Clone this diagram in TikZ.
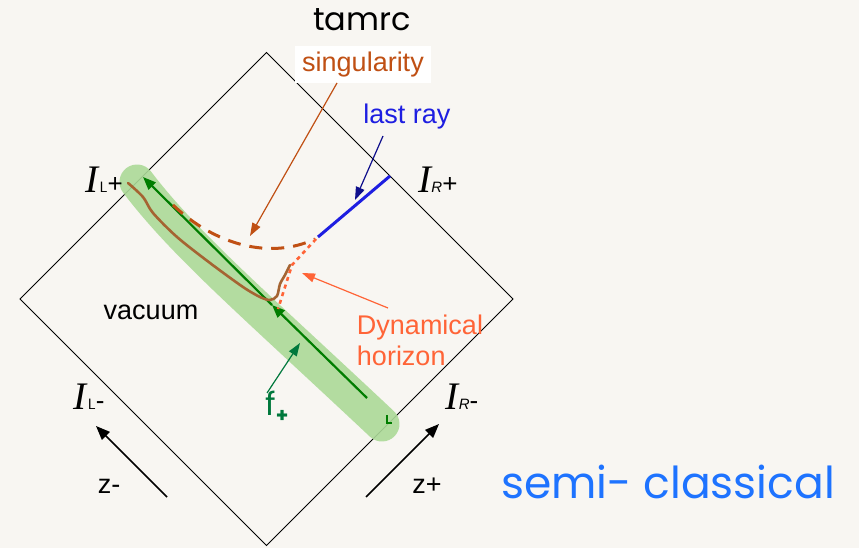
\documentclass[tikz,border=0pt]{standalone}
\usepackage{fontspec}
\setmainfont{Liberation Sans}
\newfontfamily\serifI{Liberation Serif}
\newfontfamily\handfont{Poppins}
\usetikzlibrary{arrows.meta}
\definecolor{paper}{RGB}{248,246,242}
\definecolor{singcol}{RGB}{192,80,20}
\definecolor{raycol}{RGB}{30,30,225}
\definecolor{navycol}{RGB}{15,15,140}
\definecolor{dyncol}{RGB}{255,100,55}
\definecolor{hlgreen}{RGB}{172,218,152}
\definecolor{dgreen}{RGB}{0,125,0}
\definecolor{fgreen}{RGB}{0,120,60}
\definecolor{browncol}{RGB}{165,100,50}
\definecolor{semiblue}{RGB}{30,115,255}
\newcommand{\scri}[2]{{\fontsize{39}{40}\selectfont\serifI\itshape I}{\fontsize{15}{15}\selectfont #1}{\fontsize{26}{26}\selectfont #2}}
\tikzset{
  lbl/.style={inner sep=0pt, font=\fontsize{27}{31}\selectfont},
  scrilbl/.style={inner sep=0pt},
  diag/.style={draw=black, line width=0.8pt},
  zarrow/.style={draw=black, line width=1.5pt, -{Triangle[length=14pt,width=11pt]}},
  thinarrow/.style={line width=1.2pt, -{Triangle[length=13pt,width=9pt]}},
}
\begin{document}
\begin{tikzpicture}[x=1pt,y=-1pt]
\path[use as bounding box, fill=paper] (0,0) rectangle (859,548);

% Penrose diagram
\coordinate (T) at (266.5,52.5);
\coordinate (R) at (513,299);
\coordinate (B) at (266.5,545.5);
\coordinate (L) at (20,299);
\draw[diag] (T) -- (R) -- (B) -- (L) -- cycle;

% highlighter stroke
\draw[hlgreen, opacity=0.9, line width=35pt, line cap=round]
  (137,182) .. controls (185,245) and (250,300) .. (382,424);

% green null ray
\coordinate (gtail) at (367,398);
\coordinate (gmid) at (272,305);
\coordinate (gtip) at (143,177);
\draw[dgreen, line width=2.2pt, -{Triangle[length=13pt,width=10pt]}] (gtail) -- (gmid);
\draw[dgreen, line width=2.2pt, -{Triangle[length=13pt,width=10pt]}] (gmid) -- (gtip);
\draw[dgreen, line width=1.5pt] (387,415) -- (387,423) -- (392,423);

% brown hand-drawn line
\draw[browncol, line width=2.6pt, line cap=round, line join=round]
  plot[smooth, tension=0.5] coordinates {(128,183) (143,197) (153,213) (177,237) (210,263) (243,287) (260,297) (270,300) (277,296) (280,284) (285,275) (290,265)};

% singularity curve
\coordinate (s1) at (173,205);
\coordinate (s2) at (315,239);
\draw[singcol, line width=3pt, dash pattern=on 13pt off 9pt]
  (s1) .. controls (215,245) and (270,260) .. (s2);

% dynamical horizon dotted
\coordinate (d1) at (316,239);
\coordinate (d2) at (278,309);
\draw[dyncol, line width=2.6pt, dash pattern=on 4pt off 4pt] (d1) -- (292,265) -- (d2);

% last ray
\coordinate (r1) at (318,237);
\coordinate (r2) at (390,176);
\draw[raycol, line width=3pt] (r1) -- (r2);

% labels
\node[scrilbl] (ILp) at (104,180) {\scri{\textsf{L}}{+}};
\node[scrilbl] (IRp) at (438,180) {\scri{\textit{R}}{+}};
\node[scrilbl] (ILm) at (89,397) {\scri{\textsf{L}}{-}};
\node[scrilbl] (IRm) at (462,397) {\scri{\textit{R}}{-}};

\node[lbl] (vac) at (151,312) {vacuum};
\node[lbl, fill=white, minimum width=136pt, minimum height=37pt, text=singcol] (sing) at (363,64.5) {singularity};
\node[lbl, text=raycol] (last) at (407,117) {last ray};
\node[lbl, text=dyncol, align=left] (dyn) at (420,340) {Dynamical\\horizon};
\node[lbl] (zm) at (109,486) {z-};
\node[lbl] (zp) at (427,486) {z+};

\node[inner sep=0pt, font=\handfont\fontsize{32}{34}\selectfont] (tam) at (362,20) {tamrc};
\node[inner sep=0pt, font=\handfont\fontsize{44}{48}\selectfont, text=semiblue] (semi) at (668,482) {semi- classical};
\node[inner sep=0pt, text=fgreen] (fp) at (277,407) {{\handfont\fontsize{32}{34}\selectfont f}{\raisebox{-7pt}{\handfont\bfseries\fontsize{20}{20}\selectfont +}}};

% annotation arrows
\coordinate (singtip) at (250,236);
\draw[singcol, thinarrow] (337,83) -- (singtip);
\coordinate (raytip) at (355,200);
\draw[navycol, thinarrow] (383,136) -- (raytip);
\coordinate (dyntip) at (302,273);
\draw[dyncol, thinarrow] (388,308) -- (dyntip);
\coordinate (ftip) at (300,343);
\draw[fgreen, thinarrow] (267,393) -- (ftip);

% z arrows
\coordinate (zma) at (167,497);
\coordinate (zmb) at (96,426);
\draw[zarrow] (zma) -- (zmb);
\coordinate (zpa) at (366,497);
\coordinate (zpb) at (439,424);
\draw[zarrow] (zpa) -- (zpb);
\end{tikzpicture}
\end{document}
